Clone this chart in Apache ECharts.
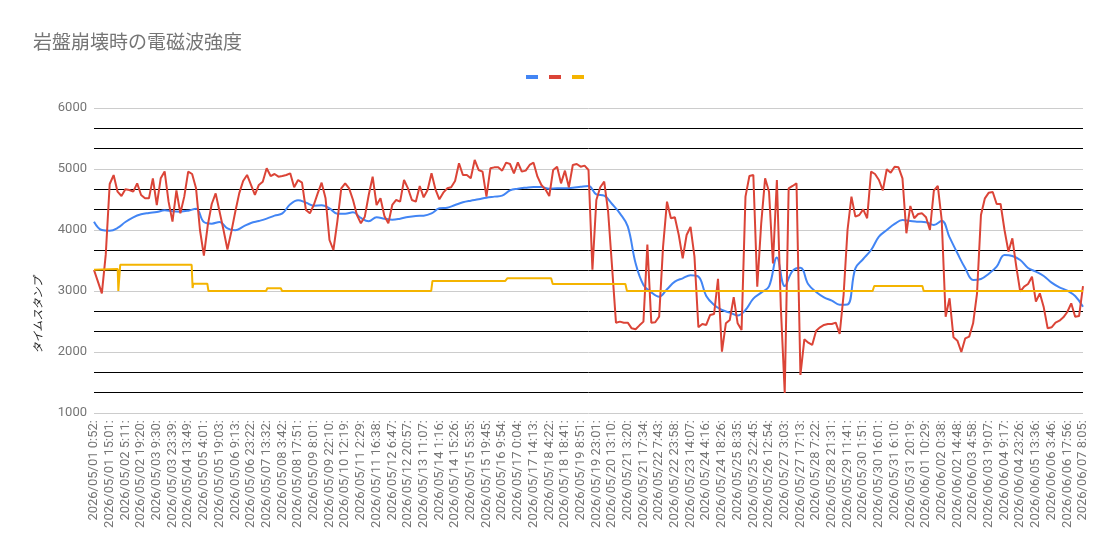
<!DOCTYPE html>
<html>
<head>
<meta charset="utf-8">
<title>岩盤崩壊時の電磁波強度</title>
<script src="https://cdn.jsdelivr.net/npm/echarts@6/dist/echarts.min.js"></script>
<style>
  html, body { margin: 0; padding: 0; background: #fff; }
  #chart { width: 1111px; height: 553px; }
</style>
</head>
<body>
<div id="chart"></div>
<script>
// x axis tick labels (one per category step)
const timeLabels = [
  '2026/05/01 0:52:', '2026/05/01 15:01:', '2026/05/02 5:11:', '2026/05/02 19:20:',
  '2026/05/03 9:30:', '2026/05/03 23:39:', '2026/05/04 13:49:', '2026/05/05 4:01:',
  '2026/05/05 19:03:', '2026/05/06 9:13:', '2026/05/06 23:22:', '2026/05/07 13:32:',
  '2026/05/08 3:42:', '2026/05/08 17:51:', '2026/05/09 8:01:', '2026/05/09 22:10:',
  '2026/05/10 12:19:', '2026/05/11 2:29:', '2026/05/11 16:38:', '2026/05/12 6:47:',
  '2026/05/12 20:57:', '2026/05/13 11:07:', '2026/05/14 1:16:', '2026/05/14 15:26:',
  '2026/05/15 5:35:', '2026/05/15 19:45:', '2026/05/16 9:54:', '2026/05/17 0:04:',
  '2026/05/17 14:13:', '2026/05/18 4:22:', '2026/05/18 18:41:', '2026/05/19 8:51:',
  '2026/05/19 23:01:', '2026/05/20 13:10:', '2026/05/21 3:20:', '2026/05/21 17:34:',
  '2026/05/22 7:43:', '2026/05/22 23:58:', '2026/05/23 14:07:', '2026/05/24 4:16:',
  '2026/05/24 18:26:', '2026/05/25 8:35:', '2026/05/25 22:45:', '2026/05/26 12:54:',
  '2026/05/27 3:03:', '2026/05/27 17:13:', '2026/05/28 7:22:', '2026/05/28 21:31:',
  '2026/05/29 11:41:', '2026/05/30 1:51:', '2026/05/30 16:01:', '2026/05/31 6:10:',
  '2026/05/31 20:19:', '2026/06/01 10:29:', '2026/06/02 0:38:', '2026/06/02 14:48:',
  '2026/06/03 4:58:', '2026/06/03 19:07:', '2026/06/04 9:17:', '2026/06/04 23:26:',
  '2026/06/05 13:36:', '2026/06/06 3:46:', '2026/06/06 17:56:', '2026/06/07 8:05:'
];

// red: 4 samples per label step
const redVals = [
  3344, 3153, 2962, 3600, 4754, 4900, 4628, 4557, 4667, 4656,
  4628, 4765, 4574, 4519, 4519, 4847, 4410, 4847, 4960, 4465,
  4137, 4650, 4273, 4547, 4957, 4918, 4683, 4000, 3580, 4082,
  4426, 4601, 4300, 4000, 3680, 3973, 4300, 4601, 4803, 4902,
  4738, 4574, 4738, 4792, 5011, 4885, 4918, 4874, 4885, 4902,
  4929, 4700, 4820, 4776, 4328, 4273, 4410, 4601, 4776, 4519,
  3836, 3672, 4137, 4683, 4765, 4683, 4492, 4246, 4109, 4219,
  4574, 4874, 4410, 4519, 4230, 4109, 4410, 4492, 4465, 4820,
  4683, 4492, 4465, 4722, 4536,
  4656, 4929, 4667, 4503, 4612,
  4683, 4700, 4803, 5093, 4902, 4902, 4847, 5148, 4984, 4957,
  4547, 5011, 5027, 5027, 4973, 5104, 5082, 4929, 5109, 4957,
  4973, 5066, 5104, 4874, 4738, 4667, 4557, 4984, 5038, 4765,
  4973, 4700, 5066, 5082, 5038, 5055, 4984, 3350, 4492, 4700,
  4792, 4300, 3399, 2481, 2498, 2481, 2481, 2388, 2372, 2437,
  2498, 3760, 2481, 2487, 2579, 3727, 4465, 4192, 4208, 3918,
  3536, 3918, 4050, 3563, 2405, 2459, 2443, 2607, 2623, 3200,
  2006, 2470, 2525, 2900, 2470, 2361, 4547, 4885, 4902, 3071,
  4100, 4847, 4628, 3450, 4820, 2743, 1330, 4683, 4722, 4765,
  1623, 2208, 2153, 2115, 2350, 2405, 2443, 2459, 2459, 2481,
  2295, 2935, 4000, 4547, 4219, 4246, 4339, 4192, 4957, 4918,
  4820, 4650, 4995, 4940, 5038, 5027, 4847, 3946, 4394, 4192,
  4262, 4273, 4208, 4000, 4645, 4722, 4164, 2579, 2880, 2241,
  2186, 2000, 2224, 2252, 2470, 2962, 4246, 4519, 4612, 4623,
  4426, 4426, 4000, 3645, 3864, 3399, 2989, 3071, 3115, 3235,
  2825, 2962, 2732, 2388, 2405, 2481, 2514, 2569, 2656, 2798,
  2579, 2590, 3080
];

// blue: 2 samples per label step
const blueVals = [
  4137, 4000, 3989, 4033, 4131, 4208, 4257, 4279, 4295, 4322,
  4306, 4301, 4317, 4350, 4131, 4104, 4131, 4027, 3995, 4055,
  4115, 4148, 4186, 4235, 4273, 4421, 4486, 4448, 4399, 4404,
  4355, 4268, 4268, 4290, 4197, 4142, 4208, 4186, 4170, 4186,
  4213, 4230, 4235, 4273, 4355, 4366, 4410, 4454, 4481, 4503,
  4530, 4547, 4563, 4650, 4678, 4694, 4705, 4705, 4678, 4683,
  4683, 4694, 4710, 4722, 4585, 4563, 4426, 4273, 4060, 3454,
  3099, 2978, 2907, 3028, 3153, 3208, 3257, 3235, 2918, 2771,
  2689, 2645, 2600, 2689, 2875, 2973, 3077, 3550, 3080, 3330,
  3380, 3110, 2984, 2897, 2842, 2776, 2780, 3372, 3525, 3672,
  3891, 4000, 4099, 4164, 4148, 4137, 4126, 4082, 4153, 3880,
  3618, 3372, 3181, 3197, 3284, 3399, 3590, 3574, 3508, 3377,
  3317, 3246, 3137, 3060, 3006, 2918, 2743
];

// yellow: step breakpoints (position in label steps, value)
const yellowPos = [0, 1.51, 1.55, 1.62, 1.67, 6.22, 6.28, 6.33, 7.22, 7.29, 10.96, 11.04, 11.9, 11.98,
  21.48, 21.56, 26.2, 26.26, 26.34, 29.12, 29.22, 33.85, 33.95, 49.6, 49.7, 52.77, 52.85, 63];
const yellowVals = [3350, 3360, 3000, 3000, 3430, 3430, 3050, 3120, 3120, 3000, 3000, 3045, 3045, 3000,
  3000, 3165, 3165, 3140, 3210, 3210, 3115, 3115, 3000, 3000, 3082, 3082, 3000, 3000];

const chart = echarts.init(document.getElementById('chart'));
const option = {
  animation: false,
  textStyle: { fontFamily: 'Roboto, "Noto Sans CJK JP", sans-serif' },
  title: {
    text: '岩盤崩壊時の電磁波強度',
    left: 28,
    top: 27,
    textStyle: { fontSize: 19, fontWeight: 'normal', color: '#757575', fontFamily: '"Noto Sans CJK JP", sans-serif' }
  },
  legend: {
    left: 521,
    top: 70,
    icon: 'rect',
    itemWidth: 12,
    itemHeight: 4,
    itemGap: 11,
    formatter: () => '',
    textStyle: { fontSize: 12 },
    data: ['s1', 's2', 's3']
  },
  graphic: [{
    type: 'text',
    x: 38,
    y: 315,
    rotation: Math.PI / 2,
    style: {
      text: 'タイムスタンプ',
      fontSize: 11,
      fontStyle: 'italic',
      fill: '#222',
      align: 'center',
      verticalAlign: 'middle',
      fontFamily: '"Noto Sans CJK JP", sans-serif'
    }
  }],
  grid: { left: 94, right: 28, top: 108, bottom: 140 },
  xAxis: {
    type: 'value',
    min: 0,
    max: timeLabels.length - 1,
    interval: 1,
    axisLine: { show: false },
    axisTick: { show: false },
    splitLine: { show: false },
    axisLabel: {
      rotate: 90,
      fontSize: 13,
      color: '#757575',
      margin: 7,
      formatter: v => timeLabels[v] || ''
    }
  },
  yAxis: {
    type: 'value',
    min: 1000,
    max: 6000,
    interval: 1000,
    axisLine: { show: false },
    axisTick: { show: false },
    axisLabel: { fontSize: 13, color: '#757575', margin: 7, formatter: v => String(v) },
    splitLine: { lineStyle: { color: '#cccccc', width: 1 } },
    minorTick: { show: false, splitNumber: 3 },
    minorSplitLine: { show: true, lineStyle: { color: '#000000', width: 1 } }
  },
  series: [
    {
      name: 's1', type: 'line', showSymbol: false, smooth: 0.4,
      lineStyle: { color: '#4285f4', width: 2 }, itemStyle: { color: '#4285f4' },
      data: blueVals.map((v, i) => [i / 2, v])
    },
    {
      name: 's2', type: 'line', showSymbol: false,
      lineStyle: { color: '#db4437', width: 2 }, itemStyle: { color: '#db4437' },
      data: redVals.map((v, i) => [i / 4, v])
    },
    {
      name: 's3', type: 'line', showSymbol: false,
      lineStyle: { color: '#f4b400', width: 2 }, itemStyle: { color: '#f4b400' },
      data: yellowVals.map((v, i) => [yellowPos[i], v])
    }
  ]
};
chart.setOption(option);
</script>
</body>
</html>
